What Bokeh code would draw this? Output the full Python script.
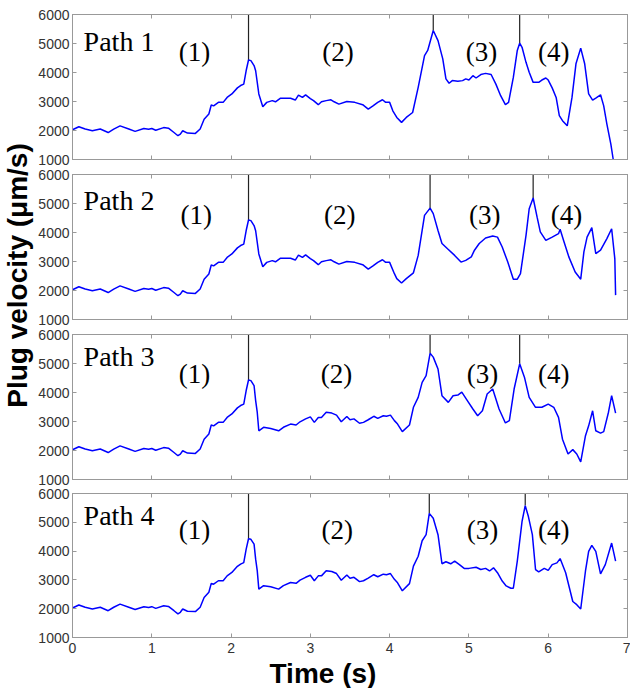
import math
from bokeh.plotting import figure
from bokeh.layouts import row, column
from bokeh.models import Range1d, LinearAxis, FixedTicker, Title
from bokeh.core.properties import value
from bokeh.embed import file_html
from bokeh.resources import INLINE

# ---------------- data ----------------
# common start of all four paths (s, um/s)
t_start = [0, 0.08, 0.16, 0.25, 0.35, 0.45, 0.52, 0.6, 0.71, 0.79, 0.9, 0.96, 1.0, 1.05,
           1.15, 1.21, 1.28, 1.33, 1.36, 1.39, 1.45, 1.55, 1.61, 1.66, 1.72, 1.75, 1.78,
           1.84, 1.9, 1.95, 2.01, 2.08, 2.12, 2.16, 2.19, 2.22, 2.25, 2.29]
v_start = [2025, 2130, 2050, 1990, 2050, 1930, 2050, 2160, 2050, 1970, 2070, 2040, 2070, 2010,
           2100, 2080, 1930, 1820, 1875, 1990, 1910, 1900, 2050, 2390, 2570, 2880, 2850,
           2970, 2970, 3140, 3260, 3470, 3550, 3600, 4060, 4430, 4410, 4240]

# middle section shared by paths 1 and 2
t_mid_a = [2.31, 2.35, 2.4, 2.45, 2.52, 2.56, 2.62, 2.75, 2.81, 2.85, 2.9, 2.94, 3.0, 3.04,
           3.1, 3.14, 3.2, 3.26, 3.3, 3.36, 3.46, 3.56, 3.66, 3.73, 3.79, 3.85, 3.91, 3.95, 4.0]
v_mid_a = [4060, 3260, 2820, 2970, 3030, 2990, 3110, 3110, 3050, 3220, 3140, 3230, 3100, 3030,
           2890, 2990, 3030, 3060, 2990, 2910, 3000, 2970, 2890, 2740, 2850, 2970, 3060, 2970, 2970]

# middle section shared by paths 3 and 4
t_mid_b = [2.31, 2.33, 2.35, 2.41, 2.5, 2.6, 2.66, 2.75, 2.82, 2.87, 2.94, 3.0, 3.05, 3.1,
           3.14, 3.2, 3.27, 3.33, 3.39, 3.46, 3.5, 3.55, 3.62, 3.67, 3.73, 3.8, 3.85, 3.92, 3.96, 4.01]
v_mid_b = [3720, 3320, 2680, 2800, 2760, 2680, 2800, 2910, 2880, 2990, 3090, 3160, 2970, 3140,
           3140, 3320, 3290, 3220, 2990, 3170, 3060, 3090, 2940, 2970, 3060, 3180, 3110, 3200, 3180, 3220]

# individual ends of the paths
t_end_1 = [4.04, 4.09, 4.15, 4.21, 4.29, 4.36, 4.44, 4.48, 4.55, 4.61, 4.67, 4.71, 4.75, 4.79,
           4.86, 4.92, 4.96, 5.0, 5.05, 5.09, 5.15, 5.21, 5.28, 5.34, 5.4, 5.46, 5.5, 5.56, 5.61,
           5.64, 5.67, 5.72, 5.76, 5.81, 5.88, 5.92, 5.97, 6.0, 6.05, 6.1, 6.14, 6.18, 6.24, 6.3,
           6.35, 6.41, 6.46, 6.51, 6.56, 6.6, 6.66, 6.7, 6.74, 6.79, 6.82]
v_end_1 = [2680, 2450, 2280, 2450, 2620, 3490, 4580, 4760, 5450, 5100, 4470, 3780, 3630, 3720,
           3700, 3720, 3780, 3740, 3890, 3810, 3930, 3970, 3930, 3600, 3200, 2890, 2970, 3830, 4760,
           5010, 4870, 4350, 4010, 3660, 3660, 3740, 3810, 3740, 3470, 3140, 2510, 2340, 2160, 3140,
           4300, 4840, 4300, 3260, 3050, 3120, 3230, 2850, 2220, 1530, 1000]

t_end_2 = [4.06, 4.09, 4.15, 4.21, 4.3, 4.36, 4.44, 4.51, 4.55, 4.61, 4.66, 4.73, 4.82, 4.9,
           4.96, 5.03, 5.07, 5.13, 5.21, 5.3, 5.36, 5.42, 5.49, 5.56, 5.61, 5.65, 5.72, 5.76, 5.81,
           5.86, 5.9, 5.97, 6.05, 6.13, 6.15, 6.2, 6.26, 6.34, 6.41, 6.45, 6.49, 6.55, 6.6, 6.66,
           6.74, 6.8, 6.84, 6.85]
v_end_2 = [2580, 2410, 2260, 2410, 2610, 3210, 4590, 4840, 4650, 4070, 3620, 3440, 3210, 2980,
           3040, 3160, 3390, 3620, 3810, 3880, 3840, 3500, 2980, 2390, 2390, 2580, 3900, 4820, 5190,
           4530, 4020, 3730, 3840, 3960, 4110, 3670, 3160, 2640, 2390, 3330, 3840, 4170, 3270, 3390,
           3790, 4130, 3100, 1840]

t_end_3 = [4.06, 4.1, 4.16, 4.25, 4.3, 4.36, 4.41, 4.46, 4.51, 4.55, 4.61, 4.66, 4.74, 4.8,
           4.86, 4.91, 4.98, 5.05, 5.11, 5.17, 5.23, 5.3, 5.38, 5.46, 5.51, 5.57, 5.64, 5.7, 5.76,
           5.84, 5.92, 6.0, 6.07, 6.13, 6.18, 6.25, 6.31, 6.36, 6.41, 6.47, 6.51, 6.56, 6.6, 6.66,
           6.7, 6.76, 6.8, 6.85]
v_end_3 = [3030, 2910, 2650, 2880, 3490, 3830, 4350, 4580, 5350, 5220, 4810, 3890, 3660, 3890,
           3910, 4010, 3720, 3430, 3200, 3370, 3950, 4120, 3430, 2950, 3030, 4120, 4990, 4530, 3830,
           3490, 3490, 3600, 3490, 3140, 2390, 1880, 2030, 1880, 1610, 2510, 2850, 3370, 2680, 2600,
           2650, 3320, 3890, 3290]

t_end_4 = [4.06, 4.1, 4.16, 4.25, 4.3, 4.36, 4.41, 4.46, 4.5, 4.55, 4.61, 4.66, 4.71, 4.77,
           4.82, 4.88, 4.94, 5.0, 5.09, 5.15, 5.21, 5.26, 5.31, 5.36, 5.42, 5.47, 5.53, 5.56, 5.61,
           5.67, 5.71, 5.75, 5.8, 5.84, 5.88, 5.95, 6.0, 6.05, 6.11, 6.15, 6.22, 6.31, 6.36, 6.41,
           6.47, 6.51, 6.55, 6.6, 6.66, 6.72, 6.8, 6.85]
v_end_4 = [3020, 2900, 2620, 2870, 3480, 3820, 4360, 4570, 5310, 5140, 4570, 3560, 3630, 3560,
           3650, 3530, 3400, 3400, 3440, 3360, 3400, 3310, 3420, 3250, 2960, 2790, 2710, 2710, 3650,
           5030, 5580, 5200, 4570, 3360, 3280, 3400, 3330, 3530, 3590, 3740, 3250, 2250, 2140, 1990,
           3310, 3990, 4200, 3990, 3210, 3530, 4280, 3650]

# peak markers (vertical lines from the peak up to the top of the axis)
peak_t_1 = [2.22, 4.55, 5.64]
peak_v_1 = [4430, 5450, 5010]
peak_t_2 = [2.22, 4.51, 5.81]
peak_v_2 = [4430, 4840, 5190]
peak_t_3 = [2.22, 4.51, 5.64]
peak_v_3 = [4430, 5350, 4990]
peak_t_4 = [2.22, 4.50, 5.71]
peak_v_4 = [4430, 5310, 5580]

path_names = ["Path 1", "Path 2", "Path 3", "Path 4"]
phase_names = ["(1)", "(2)", "(3)", "(4)"]
x_ticks = [0, 1, 2, 3, 4, 5, 6, 7]
y_ticks = [1000, 2000, 3000, 4000, 5000, 6000]

# --------------- assemble the four series ---------------
series_t = [t_start + t_mid_a + t_end_1, t_start + t_mid_a + t_end_2,
            t_start + t_mid_b + t_end_3, t_start + t_mid_b + t_end_4]
series_v = [v_start + v_mid_a + v_end_1, v_start + v_mid_a + v_end_2,
            v_start + v_mid_b + v_end_3, v_start + v_mid_b + v_end_4]
peaks_t = [peak_t_1, peak_t_2, peak_t_3, peak_t_4]
peaks_v = [peak_v_1, peak_v_2, peak_v_3, peak_v_4]

# label placement (layout only)
path_label_y = [5080, 5100, 5250, 5240]
phase_label_x = [[1.54, 3.35, 5.16, 6.07], [1.56, 3.37, 5.20, 6.23],
                 [1.54, 3.33, 5.17, 6.07], [1.54, 3.34, 5.17, 6.07]]
phase_label_y = [4720, 4620, 4640, 4740]

AX = "#999999"
TXT = "#333333"
SANS = "Liberation Sans"
SERIF = "Liberation Serif"

LAB_W = 34
heights = [166, 160, 160, 202]
tops = [14, 8, 8, 7]
bottoms = [7, 7, 7, 50]


def base_axis_style(ax):
    ax.axis_line_color = AX
    ax.major_tick_line_color = AX
    ax.major_tick_in = 4
    ax.major_tick_out = 0
    ax.minor_tick_line_color = None


def hide_labels(ax, ticks):
    ax.major_label_overrides = {t: "" for t in ticks}
    ax.major_label_text_font_size = "1px"
    ax.major_label_standoff = 0


panels = []
for i in range(4):
    last = (i == 3)
    p = figure(width=630 - LAB_W, height=heights[i], x_range=Range1d(0, 7), y_range=Range1d(1000, 6000),
               output_backend="svg", toolbar_location=None,
               min_border_left=72 - LAB_W, min_border_right=3,
               min_border_top=tops[i], min_border_bottom=bottoms[i])
    p.grid.visible = False
    p.outline_line_color = AX
    p.background_fill_color = "white"
    p.border_fill_color = "white"

    xa = p.xaxis[0]
    ya = p.yaxis[0]
    xa.ticker = FixedTicker(ticks=x_ticks)
    ya.ticker = FixedTicker(ticks=y_ticks)
    base_axis_style(xa)
    base_axis_style(ya)
    ya.major_label_text_font = SANS
    ya.major_label_text_font_size = "14px"
    ya.major_label_text_color = TXT
    ya.major_label_standoff = 3
    if last:
        xa.major_label_text_font = SANS
        xa.major_label_text_font_size = "14px"
        xa.major_label_text_color = TXT
        xa.major_label_standoff = 5
    else:
        hide_labels(xa, x_ticks)

    top_ax = LinearAxis(ticker=FixedTicker(ticks=x_ticks))
    right_ax = LinearAxis(ticker=FixedTicker(ticks=y_ticks))
    base_axis_style(top_ax)
    base_axis_style(right_ax)
    hide_labels(top_ax, x_ticks)
    hide_labels(right_ax, y_ticks)
    p.add_layout(top_ax, "above")
    p.add_layout(right_ax, "right")

    if last:
        p.add_layout(Title(text="Time (s)", align="left", offset=197,
                           text_font=SANS, text_font_size="28px", text_font_style="bold",
                           text_color="black", standoff=0), "below")

    p.segment(x0=peaks_t[i], y0=peaks_v[i], x1=peaks_t[i], y1=[y_ticks[-1]] * len(peaks_t[i]),
              line_color="#222222", line_width=1.2)
    p.line(series_t[i], series_v[i], line_color="#0000ff", line_width=1.5)

    p.text(x=[0.14], y=[path_label_y[i]], text=[path_names[i]], text_font=value(SERIF),
           text_font_size="28px", text_align="left", text_baseline="middle", text_color="black")
    p.text(x=phase_label_x[i], y=[phase_label_y[i]] * 4, text=phase_names, text_font=value(SERIF),
           text_font_size="27px", text_align="center", text_baseline="middle", text_color="black")
    panels.append(p)

# narrow figure that carries the shared y-axis title
lab = figure(width=LAB_W, height=688, x_range=Range1d(0, LAB_W), y_range=Range1d(0, 688),
             output_backend="svg", toolbar_location=None,
             min_border_left=0, min_border_right=0, min_border_top=0, min_border_bottom=0)
lab.axis.visible = False
lab.grid.visible = False
lab.outline_line_color = None
lab.text(x=[17], y=[688 - 275], text=["Plug velocity (\u03bcm/s)"], angle=math.pi / 2,
         text_font=value(SANS), text_font_size="28px", text_font_style="bold",
         text_align="center", text_baseline="middle", text_color="black")

layout = row(lab, column(*panels, spacing=0), spacing=0)

open("out.html", "w").write(file_html(layout, INLINE))
